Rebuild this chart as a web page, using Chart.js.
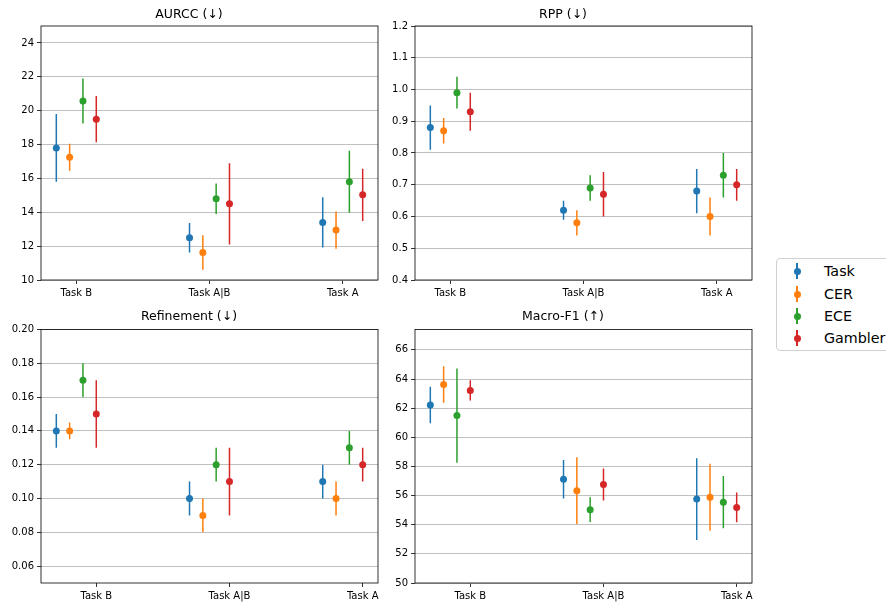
<!DOCTYPE html>
<html>
<head>
<meta charset="utf-8">
<script src="https://cdn.jsdelivr.net/npm/chart.js@4/dist/chart.umd.min.js"></script>
<style>
  body { margin: 0; background: #fff; width: 886px; height: 603px; overflow: hidden; position: relative; font-family: 'DejaVu Sans', sans-serif; }
  canvas { position: absolute; }
  #legend { position: absolute; left: 776px; top: 258px; width: 130px; height: 91px; border: 1px solid #d0d0d0; border-radius: 4px; background: #fff; }
  .item { position: absolute; left: 0; height: 20px; line-height: 20px; font-size: 14.3px; color: #000; white-space: nowrap; }
  .bar { position: absolute; left: 19px; top: 2px; width: 1.5px; height: 16px; }
  .dot { position: absolute; left: 16.5px; top: 6.5px; width: 7px; height: 7px; border-radius: 50%; }
  .txt { position: absolute; left: 47px; top: 0; }
</style>
</head>
<body>
<canvas id="c1" width="386" height="300" style="left:0px;top:0px"></canvas>
<canvas id="c2" width="386" height="300" style="left:374px;top:0px"></canvas>
<canvas id="c3" width="386" height="303" style="left:0px;top:300px"></canvas>
<canvas id="c4" width="386" height="303" style="left:374px;top:300px"></canvas>
<div id="legend"></div>
<script>
const categories = ['Task B', 'Task A|B', 'Task A'];
const seriesNames = ['Task', 'CER', 'ECE', 'Gambler'];
const seriesColors = ['#1f77b4', '#ff7f0e', '#2ca02c', '#d62728'];
const seriesOffsets = [-0.15, -0.05, 0.05, 0.15];

// rows = series (Task, CER, ECE, Gambler), columns = categories
const aurccMean = [[17.8, 12.5, 13.4], [17.25, 11.63, 12.95], [20.57, 14.8, 15.8], [19.5, 14.5, 15.03]];
const aurccErr = [[2.0, 0.87, 1.48], [0.8, 1.02, 1.1], [1.33, 0.9, 1.83], [1.37, 2.4, 1.54]];
const aurccTicks = [10, 12, 14, 16, 18, 20, 22, 24];

const rppMean = [[0.88, 0.62, 0.68], [0.87, 0.58, 0.60], [0.99, 0.69, 0.73], [0.93, 0.67, 0.70]];
const rppErr = [[0.07, 0.03, 0.07], [0.04, 0.04, 0.06], [0.05, 0.04, 0.07], [0.06, 0.07, 0.05]];
const rppTicks = [0.4, 0.5, 0.6, 0.7, 0.8, 0.9, 1.0, 1.1, 1.2];

const refMean = [[0.14, 0.10, 0.11], [0.14, 0.09, 0.10], [0.17, 0.12, 0.13], [0.15, 0.11, 0.12]];
const refErr = [[0.01, 0.01, 0.01], [0.005, 0.01, 0.01], [0.01, 0.01, 0.01], [0.02, 0.02, 0.01]];
const refTicks = [0.06, 0.08, 0.10, 0.12, 0.14, 0.16, 0.18, 0.20];

const f1Mean = [[62.22, 57.12, 55.76], [63.63, 56.33, 55.89], [61.49, 55.03, 55.55], [63.22, 56.76, 55.19]];
const f1Err = [[1.25, 1.32, 2.8], [1.25, 2.3, 2.3], [3.24, 0.85, 1.8], [0.7, 1.1, 1.02]];
const f1Ticks = [50, 52, 54, 56, 58, 60, 62, 64, 66];

Chart.defaults.font.family = "'DejaVu Sans', sans-serif";
Chart.defaults.color = '#000';

const framePlugin = {
  id: 'frame',
  afterDraw(chart) {
    const { ctx, chartArea: a } = chart;
    ctx.save();
    ctx.strokeStyle = '#000';
    ctx.lineWidth = 0.8;
    ctx.strokeRect(a.left, a.top, a.right - a.left, a.bottom - a.top);
    ctx.restore();
  }
};

function makePanel(id, title, means, errs, yMin, yMax, yTicks, decimals, tickShift, padTop, padBottom) {
  const datasets = [];
  seriesNames.forEach((name, s) => {
    const bars = [];
    const pts = [];
    categories.forEach((c, i) => {
      const x = i + seriesOffsets[s];
      bars.push({ x: x, y: means[s][i] - errs[s][i] }, { x: x, y: means[s][i] + errs[s][i] }, { x: x, y: null });
      pts.push({ x: x, y: means[s][i] });
    });
    datasets.push({
      label: name + ' err', data: bars, showLine: true, spanGaps: false,
      borderColor: seriesColors[s], borderWidth: 1.5, pointRadius: 0, order: 20 - s * 2
    });
    datasets.push({
      label: name, data: pts, showLine: false, pointRadius: 3.5, pointBorderWidth: 0,
      pointBackgroundColor: seriesColors[s], backgroundColor: seriesColors[s], order: 19 - s * 2
    });
  });

  new Chart(document.getElementById(id), {
    type: 'scatter',
    data: { datasets: datasets },
    options: {
      responsive: false,
      animation: false,
      devicePixelRatio: 1,
      events: [],
      layout: { padding: { left: 0, right: 8, top: 0, bottom: 0 } },
      plugins: {
        legend: { display: false },
        tooltip: { enabled: false },
        title: {
          display: true, text: title, color: '#000',
          font: { size: 12.5, weight: 'normal' },
          padding: { top: padTop, bottom: padBottom }
        }
      },
      scales: {
        x: {
          type: 'linear', min: -0.265, max: 2.265,
          afterBuildTicks: ax => { ax.ticks = categories.map((c, i) => ({ value: i + tickShift })); },
          afterFit: ax => { ax.height = 20; },
          ticks: { callback: (v, i) => categories[i], font: { size: 10 }, color: '#000', padding: 3, maxRotation: 0, autoSkip: false },
          grid: { drawOnChartArea: false, drawTicks: true, tickLength: 4, tickColor: '#000', tickWidth: 0.8 },
          border: { display: false }
        },
        y: {
          type: 'linear', min: yMin, max: yMax,
          afterBuildTicks: ax => { ax.ticks = yTicks.map(v => ({ value: v })); },
          afterFit: ax => { ax.width = 41; },
          ticks: { callback: v => v.toFixed(decimals), font: { size: 10 }, color: '#000', padding: 3 },
          grid: { color: '#b0b0b0', lineWidth: 0.8, tickLength: 4, tickColor: '#000', tickWidth: 0.8 },
          border: { display: false }
        }
      }
    },
    plugins: [framePlugin]
  });
}

makePanel('c1', 'AURCC (↓)', aurccMean, aurccErr, 10, 25, aurccTicks, 0, 0, 7, 4);
makePanel('c2', 'RPP (↓)', rppMean, rppErr, 0.4, 1.2, rppTicks, 1, 0, 7, 4);
makePanel('c3', 'Refinement (↓)', refMean, refErr, 0.05, 0.20, refTicks, 2, 0.15, 9.5, 5);
makePanel('c4', 'Macro-F1 (↑)', f1Mean, f1Err, 50, 67.4, f1Ticks, 0, 0.15, 9.5, 5);

// legend
const legend = document.getElementById('legend');
const legendCenters = [12, 35, 57, 79];
seriesNames.forEach((name, s) => {
  const item = document.createElement('div');
  item.className = 'item';
  item.style.top = (legendCenters[s] - 10) + 'px';
  item.innerHTML = '<span class="bar" style="background:' + seriesColors[s] + '"></span>' +
    '<span class="dot" style="background:' + seriesColors[s] + '"></span>' +
    '<span class="txt">' + name + '</span>';
  legend.appendChild(item);
});
</script>
</body>
</html>
